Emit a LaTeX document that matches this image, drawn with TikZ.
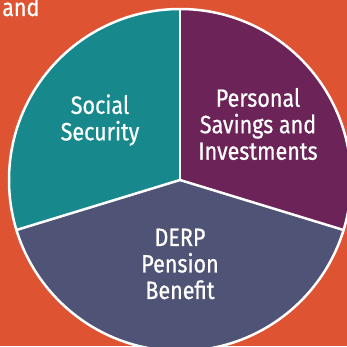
\documentclass[tikz,border=0pt]{standalone}
\usepackage{fontspec}
\setmainfont{Fira Sans}[FakeStretch=0.86, FakeBold=0.7]
\usepackage{xcolor}
\usetikzlibrary{calc,positioning}
\definecolor{bgorange}{HTML}{DE5331}
\definecolor{ssteal}{HTML}{17898D}
\definecolor{psplum}{HTML}{6B2358}
\definecolor{dpslate}{HTML}{4F5476}

\begin{document}
\begin{tikzpicture}[x=1pt, y=1pt,
    label/.style={text=white, align=center, font=\fontsize{25}{26.5}\selectfont},
    rim/.style={draw=white, line width=2.5pt}]
    \useasboundingbox (0,0) rectangle (347,346);
    \fill[bgorange] (0,0) rectangle (347,346);
    \coordinate (c) at (180, 166);

    \fill[ssteal] (c) -- ++(90:171) arc[start angle=90, end angle=197, radius=171] -- cycle;
    \fill[dpslate] (c) -- ++(197:171) arc[start angle=197, end angle=343, radius=171] -- cycle;
    \fill[psplum] (c) -- ++(-17:171) arc[start angle=-17, end angle=90, radius=171] -- cycle;

    \draw[rim] (c) circle[radius=171];
    \draw[rim] (c) -- ++(90:171);
    \draw[rim] (c) -- ++(197:171);
    \draw[rim] (c) -- ++(-17:171);

    \node[label] (ss) at (100, 226) {Social\\Security};
    \node[label] (psi) at (258, 222) {Personal\\Savings and\\Investments};
    \node[label] (derp) at (180, 82) {DERP\\Pension\\Benefit};
    \node[label, anchor=base west, inner sep=0pt] (and) at (2, 330) {and};
\end{tikzpicture}
\end{document}
